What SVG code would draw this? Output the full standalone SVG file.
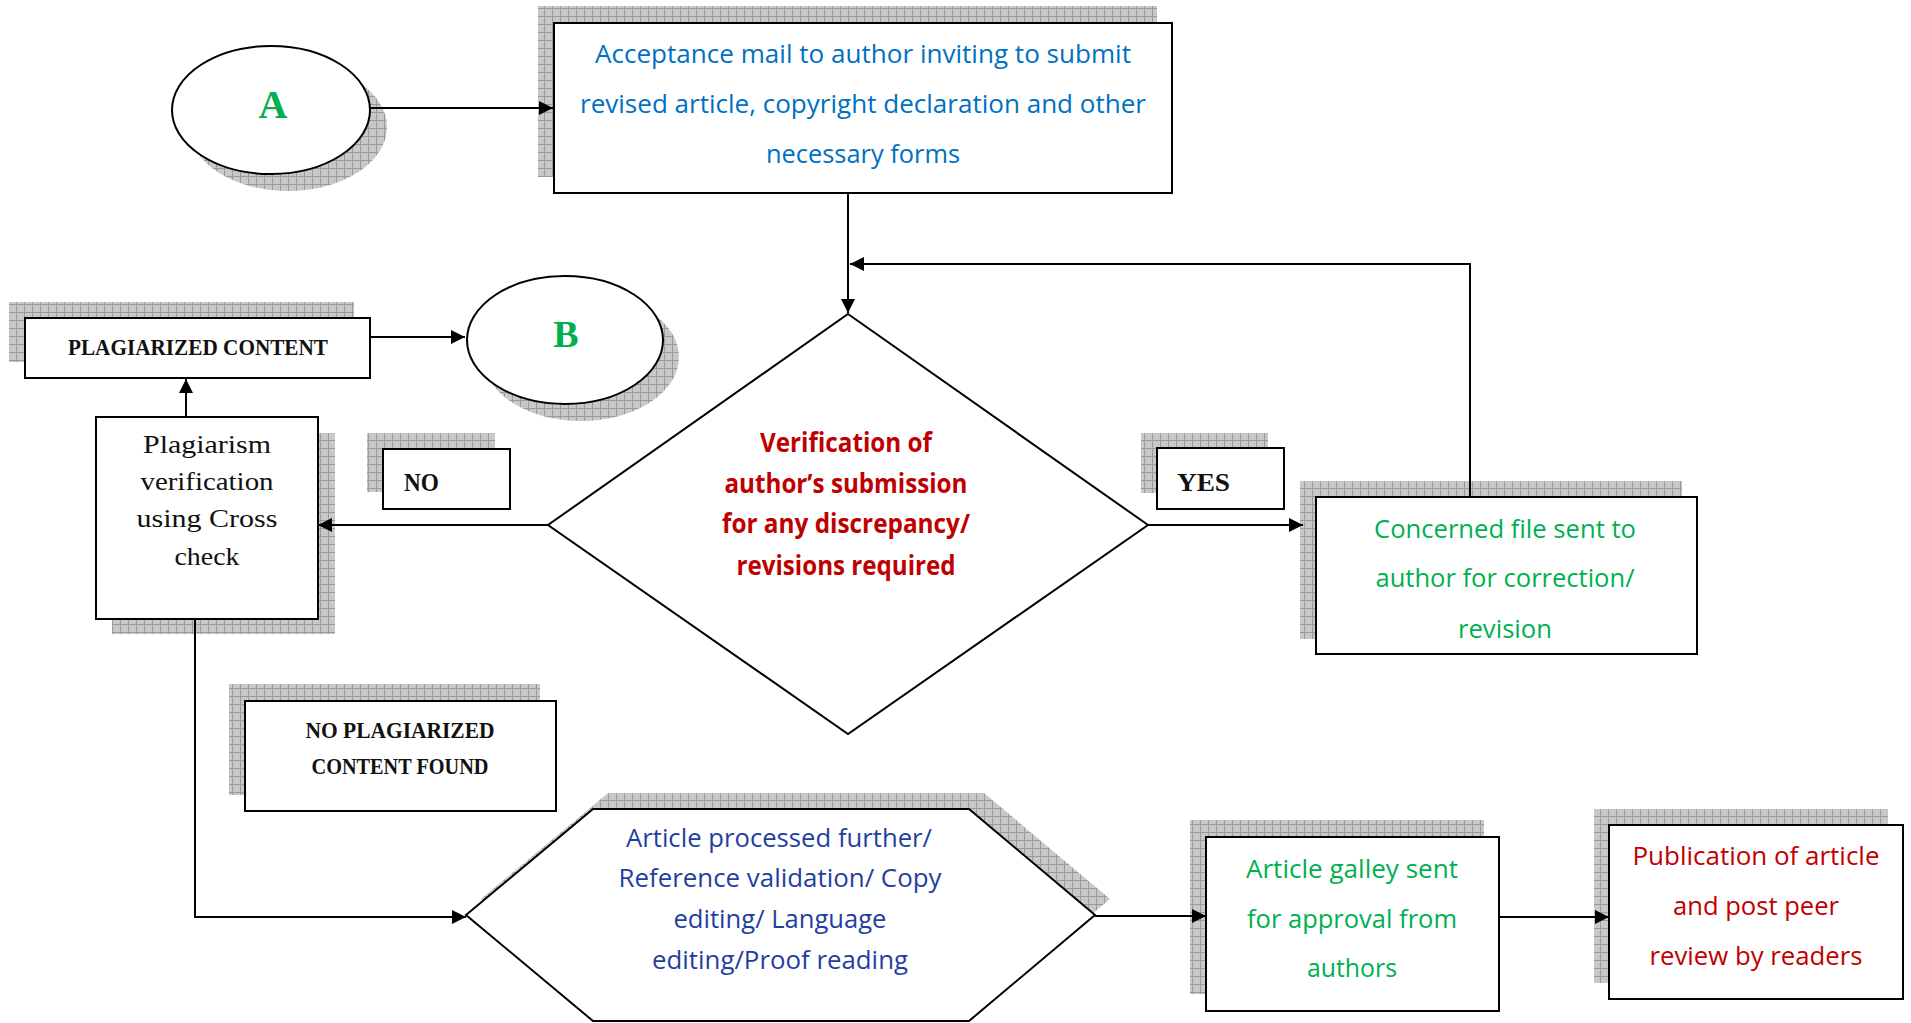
<svg xmlns="http://www.w3.org/2000/svg" width="1911" height="1023" viewBox="0 0 1911 1023">
<style>
.box{fill:#fff;stroke:#000;stroke-width:2}
.sh{fill:url(#grid);stroke:none}
.con{fill:none;stroke:#000;stroke-width:2}
.sans{font-family:"Open Sans","Liberation Sans",sans-serif;font-size:26px;text-anchor:middle}
.blue{fill:#0070c0}
.dblue{fill:#1f3f9f}
.green{fill:#00b050}
.red{fill:#c00000}
.bold{font-weight:bold}
.serif{font-family:"Liberation Serif","DejaVu Serif",serif}
.deco{font-family:"Liberation Serif","DejaVu Serif",serif;font-weight:bold;fill:#111}
</style>
<defs>
<pattern id="grid" width="8" height="8" patternUnits="userSpaceOnUse">
<rect width="8" height="8" fill="#c8c8c8"/>
<path d="M0 0.5H8M0.5 0V8" stroke="#9a9a9a" stroke-width="1"/>
</pattern>
<marker id="arr" markerWidth="14" markerHeight="14" refX="14" refY="7" orient="auto" markerUnits="userSpaceOnUse">
<path d="M0 0L14 7L0 14Z" fill="#000"/>
</marker>
</defs>

<g id="nodeA">
<ellipse class="sh" cx="288" cy="127" rx="99" ry="64"/>
<ellipse class="box" cx="271" cy="110" rx="99" ry="64"/>
<text x="273" y="118" class="serif bold green" font-size="40" text-anchor="middle">A</text>
</g>

<g id="acceptance">
<rect class="sh" x="538" y="6" width="619" height="171"/>
<rect class="box" x="554" y="23" width="618" height="170"/>
<text class="sans blue" x="863" y="63" textLength="536" lengthAdjust="spacingAndGlyphs">Acceptance mail to author inviting to submit</text>
<text class="sans blue" x="863" y="113" textLength="566" lengthAdjust="spacingAndGlyphs">revised article, copyright declaration and other</text>
<text class="sans blue" x="863" y="163" textLength="194" lengthAdjust="spacingAndGlyphs">necessary forms</text>
</g>

<g id="plagiarized">
<rect class="sh" x="9" y="302" width="345" height="60"/>
<rect class="box" x="25" y="318" width="345" height="60"/>
<text class="deco" x="198" y="355" font-size="24" text-anchor="middle" textLength="260" lengthAdjust="spacingAndGlyphs">PLAGIARIZED CONTENT</text>
</g>

<g id="nodeB">
<ellipse class="sh" cx="581" cy="357" rx="98" ry="64"/>
<ellipse class="box" cx="565" cy="340" rx="98" ry="64"/>
<text x="566" y="347" class="serif bold green" font-size="38" text-anchor="middle">B</text>
</g>

<g id="plagcheck">
<rect class="sh" x="112" y="433" width="223" height="201"/>
<rect class="box" x="96" y="417" width="222" height="202"/>
<g class="serif" font-size="25" text-anchor="middle" fill="#111">
<text x="207" y="453" textLength="128" lengthAdjust="spacingAndGlyphs">Plagiarism</text>
<text x="207" y="490" textLength="133" lengthAdjust="spacingAndGlyphs">verification</text>
<text x="207" y="527" textLength="141" lengthAdjust="spacingAndGlyphs">using Cross</text>
<text x="207" y="565" textLength="65" lengthAdjust="spacingAndGlyphs">check</text>
</g>
</g>

<g id="no">
<rect class="sh" x="367" y="433" width="128" height="59"/>
<rect class="box" x="383" y="449" width="127" height="60"/>
<text class="deco" x="404" y="491" font-size="26" textLength="35" lengthAdjust="spacingAndGlyphs">NO</text>
</g>

<g id="decision">
<polygon class="box" points="848,314 1148,525 848,734 548,525"/>
<g class="sans bold red">
<text x="846" y="452" textLength="172" lengthAdjust="spacingAndGlyphs">Verification of</text>
<text x="846" y="493" textLength="243" lengthAdjust="spacingAndGlyphs">author’s submission</text>
<text x="846" y="533" textLength="248" lengthAdjust="spacingAndGlyphs">for any discrepancy/</text>
<text x="846" y="575" textLength="219" lengthAdjust="spacingAndGlyphs">revisions required</text>
</g>
</g>

<g id="yes">
<rect class="sh" x="1141" y="433" width="127" height="60"/>
<rect class="box" x="1157" y="448" width="127" height="61"/>
<text class="deco" x="1177" y="491" font-size="26" textLength="53" lengthAdjust="spacingAndGlyphs">YES</text>
</g>

<g id="concerned">
<rect class="sh" x="1300" y="481" width="382" height="158"/>
<rect class="box" x="1316" y="497" width="381" height="157"/>
<g class="sans green">
<text x="1505" y="538" textLength="262" lengthAdjust="spacingAndGlyphs">Concerned file sent to</text>
<text x="1505" y="587" textLength="259" lengthAdjust="spacingAndGlyphs">author for correction/</text>
<text x="1505" y="638" textLength="94" lengthAdjust="spacingAndGlyphs">revision</text>
</g>
</g>

<g id="noplag">
<rect class="sh" x="229" y="684" width="311" height="111"/>
<rect class="box" x="245" y="701" width="311" height="110"/>
<text class="deco" x="400" y="738" font-size="24" text-anchor="middle" textLength="189" lengthAdjust="spacingAndGlyphs">NO PLAGIARIZED</text>
<text class="deco" x="400" y="774" font-size="24" text-anchor="middle" textLength="177" lengthAdjust="spacingAndGlyphs">CONTENT FOUND</text>
</g>

<g id="processing">
<polygon class="sh" points="608,793 984,793 1110,899 984,1005 608,1005 481,899"/>
<polygon class="box" points="593,809 969,809 1095,915 969,1021 593,1021 466,915"/>
<g class="sans dblue">
<text x="779" y="847" textLength="306" lengthAdjust="spacingAndGlyphs">Article processed further/</text>
<text x="780" y="887" textLength="323" lengthAdjust="spacingAndGlyphs">Reference validation/ Copy</text>
<text x="780" y="928" textLength="213" lengthAdjust="spacingAndGlyphs">editing/ Language</text>
<text x="780" y="969" textLength="256" lengthAdjust="spacingAndGlyphs">editing/Proof reading</text>
</g>
</g>

<g id="galley">
<rect class="sh" x="1190" y="820" width="294" height="174"/>
<rect class="box" x="1206" y="837" width="293" height="174"/>
<g class="sans green">
<text x="1352" y="878" textLength="212" lengthAdjust="spacingAndGlyphs">Article galley sent</text>
<text x="1352" y="928" textLength="210" lengthAdjust="spacingAndGlyphs">for approval from</text>
<text x="1352" y="977" textLength="90" lengthAdjust="spacingAndGlyphs">authors</text>
</g>
</g>

<g id="publication">
<rect class="sh" x="1594" y="809" width="294" height="174"/>
<rect class="box" x="1609" y="825" width="294" height="174"/>
<g class="sans red">
<text x="1756" y="865" textLength="247" lengthAdjust="spacingAndGlyphs">Publication of article</text>
<text x="1756" y="915" textLength="166" lengthAdjust="spacingAndGlyphs">and post peer</text>
<text x="1756" y="965" textLength="213" lengthAdjust="spacingAndGlyphs">review by readers</text>
</g>
</g>

<g id="connectors">
<path class="con" d="M370 108H553" marker-end="url(#arr)"/>
<path class="con" d="M848 193V313" marker-end="url(#arr)"/>
<path class="con" d="M1470 497V264H850" marker-end="url(#arr)"/>
<path class="con" d="M1148 525H1303" marker-end="url(#arr)"/>
<path class="con" d="M548 525H318" marker-end="url(#arr)"/>
<path class="con" d="M186 417V379" marker-end="url(#arr)"/>
<path class="con" d="M370 337H465" marker-end="url(#arr)"/>
<path class="con" d="M195 619V917H466" marker-end="url(#arr)"/>
<path class="con" d="M1095 916H1206" marker-end="url(#arr)"/>
<path class="con" d="M1499 917H1609" marker-end="url(#arr)"/>
</g>
</svg>
